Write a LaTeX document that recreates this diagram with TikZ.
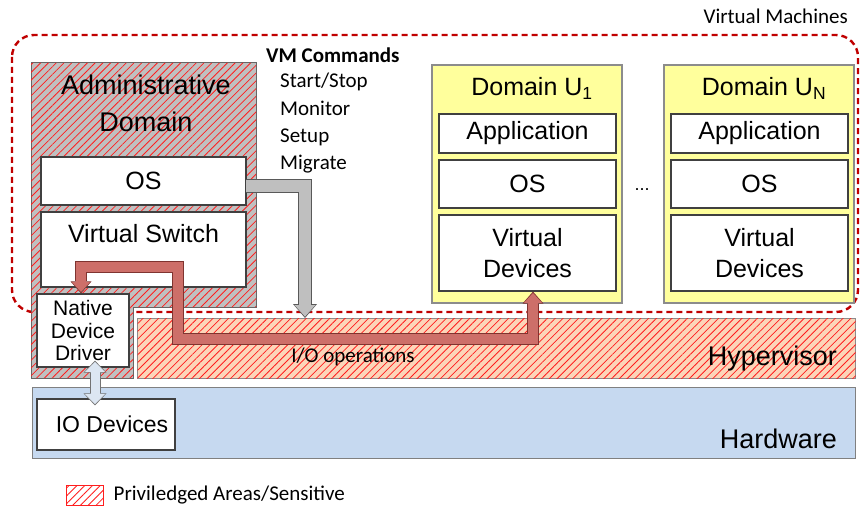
\documentclass[tikz,border=0pt]{standalone}
\usepackage{fontspec}
\setmainfont{Liberation Sans}
\newfontfamily\cfont{Carlito}
\usetikzlibrary{arrows.meta,patterns.meta,positioning,calc}
\definecolor{vmred}{HTML}{C00000}
\definecolor{hatchred}{HTML}{FF1E1E}
\definecolor{admgray}{HTML}{C0C0C0}
\definecolor{hypfill}{HTML}{FCD5B9}
\definecolor{hwfill}{HTML}{C6D9F0}
\definecolor{domfill}{HTML}{FFFF9C}
\definecolor{iofill}{HTML}{CD6F69}
\definecolor{ioedge}{HTML}{7F3430}
\definecolor{cmdfill}{HTML}{BFBFBF}
\definecolor{cmdedge}{HTML}{595959}
\definecolor{devfill}{HTML}{DCE6F2}
\tikzset{
  box/.style={draw=black!75, line width=1.2pt, fill=white, inner sep=0pt, font=\fontsize{25}{30}\selectfont},
  domainbox/.style={draw=black!45, line width=1.2pt, fill=domfill},
  hatched/.style={postaction={pattern color=hatchred, pattern={Lines[angle=45,distance=5.5pt,line width=0.8pt]}}},
  bigtext/.style={font=\fontsize{25}{30}\selectfont, inner sep=0pt},
  smalltext/.style={font=\cfont\fontsize{21}{27}\selectfont, inner sep=0pt},
  bandout/.style={line width=#1, line join=miter},
}
\begin{document}
\begin{tikzpicture}[x=1pt,y=-1pt]
  \useasboundingbox (0,0) rectangle (860,508);

  % virtual machines area
  \draw[vmred, line width=2.4pt, dash pattern=on 6pt off 4pt, rounded corners=22pt] (12,35) rectangle (858,312);
  \node[smalltext, anchor=base east] (vmlabel) at (848,24) {Virtual Machines};

  % administrative domain
  \path[fill=admgray, draw=black!60, line width=1pt, hatched]
    (31,63) -- (256,63) -- (256,307) -- (133,307) -- (133,378) -- (31,378) -- cycle;
  \node[bigtext, font=\fontsize{27}{37}\selectfont, align=center] (admlabel) at (146,103.6) {Administrative\\Domain};
  \node[box, minimum width=205pt, minimum height=48pt] (aos) at (143.5,181) {OS};
  \node[box, minimum width=205pt, text height=30pt, text depth=45pt] (vsw) at (143.5,249.5) {Virtual Switch};
  \node[box, font=\fontsize{21}{22.5}\selectfont, align=center, minimum width=92pt, minimum height=73pt] (ndd) at (83,330.5) {Native\\Device\\Driver};

  % VM commands
  \node[smalltext, font=\cfont\bfseries\fontsize{21}{27}\selectfont, anchor=base west] (vmcmd) at (266,63) {VM Commands};
  \foreach \t [count=\i] in {Start/Stop,Monitor,Setup,Migrate}
    \node[smalltext, anchor=base west] (cmd\i) at (280,60.7+27.3*\i) {\t};

  % hypervisor and hardware
  \node[draw=black!45, line width=1pt, fill=hypfill, hatched, minimum width=718pt, minimum height=60pt, anchor=north west] (hyp) at (137,318) {};
  \node[bigtext, font=\fontsize{27}{30}\selectfont, anchor=base east] (hyplabel) at (837,365) {Hypervisor};
  \node[draw=black!50, line width=1pt, fill=hwfill, minimum width=823pt, minimum height=71pt, anchor=north west] (hw) at (32,387) {};
  \node[bigtext, font=\fontsize{27}{30}\selectfont, anchor=base east] (hwlabel) at (837,448) {Hardware};
  \node[box, font=\fontsize{23}{28}\selectfont, minimum width=138pt, minimum height=51pt] (iodev) at (106,424.5) {\hspace*{12pt}IO Devices};

  % guest domains
  \foreach \dx/\sub/\nm in {0/1/a,232/N/b} {
    \node[domainbox, minimum width=190pt, minimum height=238pt] (dom\nm) at (527+\dx,184) {};
    \node[bigtext, anchor=base] (domlab\nm) at (532+\dx,96) {Domain U\textsubscript{\sub}};
    \node[box, minimum width=177pt, minimum height=39pt] (app\nm) at (527.5+\dx,133.5) {Application};
    \node[box, minimum width=177pt, minimum height=48pt] (os\nm) at (527.5+\dx,184) {OS};
    \node[box, align=center, font=\fontsize{25}{31}\selectfont, minimum width=177pt, minimum height=76pt] (vdev\nm) at (527.5+\dx,253) {Virtual\\Devices};
  }
  \node[font=\fontsize{18}{20}\selectfont, inner sep=0pt, anchor=base] (dots) at (642,191) {...};

  % VM command path
  \draw[cmdedge, bandout=14pt, -{Triangle[width=24pt,length=14pt,line width=0pt]}]
    ($(aos.east)+(-1,5)$) -| ($(hyp.north west)+(168,0)$);
  \draw[cmdfill, bandout=12pt, shorten >=1.4pt, -{Triangle[width=21pt,length=11.6pt,line width=0pt]}]
    ($(aos.east)+(-0.5,5)$) -| ($(hyp.north west)+(168,0)$);

  % I/O operations path
  \draw[ioedge, bandout=12pt, {Triangle[width=21pt,length=12pt,line width=0pt]}-{Triangle[width=21pt,length=12pt,line width=0pt]}]
    ($(ndd.north)+(-2,0)$) |- (177.5,267) |- (533,339) -- ($(vdeva.south)+(5.5,0)$);
  \draw[iofill, bandout=10pt, shorten <=1.4pt, shorten >=1.4pt, {Triangle[width=18pt,length=9.8pt,line width=0pt]}-{Triangle[width=18pt,length=9.8pt,line width=0pt]}]
    ($(ndd.north)+(-2,0)$) |- (177.5,267) |- (533,339) -- ($(vdeva.south)+(5.5,0)$);
  \node[smalltext, anchor=base] (iolabel) at (353,362) {I/O operations};

  % driver to devices
  \draw[black!55, bandout=11pt, {Triangle[width=23pt,length=12pt,line width=0pt]}-{Triangle[width=23pt,length=12pt,line width=0pt]}]
    ($(ndd.south)+(12,-7)$) -- ($(iodev.north -| ndd.south)+(12,7)$);
  \draw[devfill, bandout=9pt, shorten <=1.4pt, shorten >=1.4pt, {Triangle[width=20pt,length=9.8pt,line width=0pt]}-{Triangle[width=20pt,length=9.8pt,line width=0pt]}]
    ($(ndd.south)+(12,-7)$) -- ($(iodev.north -| ndd.south)+(12,7)$);

  % legend
  \node[draw=hatchred, line width=1pt, fill=white, hatched, minimum width=37pt, minimum height=20pt] (legbox) at (84.5,495) {};
  \node[smalltext, right=10pt of legbox] (legtext) {Priviledged Areas/Sensitive};
\end{tikzpicture}
\end{document}
